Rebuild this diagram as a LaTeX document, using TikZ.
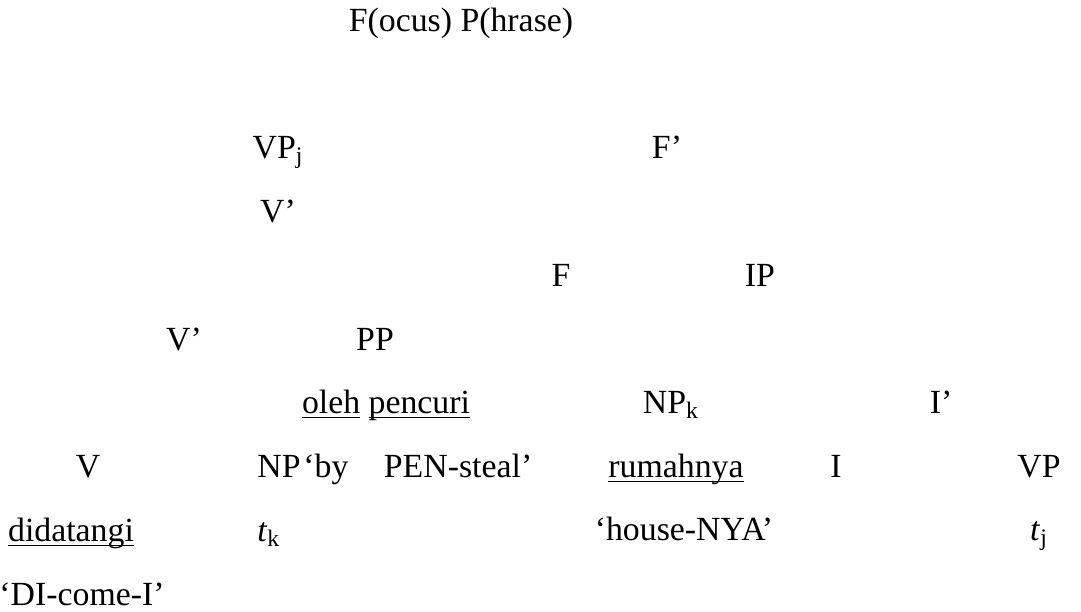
\documentclass[tikz,border=0pt]{standalone}
\usepackage{fontspec}
\setmainfont{Liberation Serif}
\usepackage{tikz}
\tikzstyle{cat}=[anchor=base, inner sep=0pt, font=\fontsize{16.9}{20}\selectfont]
% subrayado pegado a la línea base
\newcommand\subrayar[1]{\setbox0\hbox{#1}\rlap{\rule[-2.6pt]{\wd0}{0.8pt}}\box0\relax}

\begin{document}
\begin{tikzpicture}[x=0.5pt, y=-0.5pt]
        \useasboundingbox (0,0) rectangle (1081,611);

        % categorías
        \node[cat] (FP) at (461, 31) {F(ocus) P(hrase)};
        \node[cat] (VPj) at (278, 158) {VP\textsubscript{j}};
        \node[cat] (Fbar) at (667, 158) {F’};
        \node[cat] (Vbar) at (278, 222) {V’};
        \node[cat] (F) at (561, 286) {F};
        \node[cat] (IP) at (760, 286) {IP};
        \node[cat] (Vbar2) at (184, 350) {V’};
        \node[cat] (PP) at (375, 350) {PP};
        \node[cat] (NPk) at (671, 413) {NP\textsubscript{k}};
        \node[cat] (Ibar) at (941, 413) {I’};
        \node[cat] (V) at (88, 477) {V};
        \node[cat, anchor=base west] (NP) at (257, 477) {NP};
        \node[cat] (I) at (836, 477) {I};
        \node[cat] (VP) at (1039, 477) {VP};

        % palabras y glosas
        \node[cat] (oleh) at (386, 413) {\subrayar{oleh} \subrayar{pencuri}};
        \node[cat, anchor=base west] (glosaPP) at (303, 477) {‘by\hspace{1.05em}PEN-steal’};
        \node[cat] (rumahnya) at (676, 477) {\subrayar{rumahnya}};
        \node[cat] (didatangi) at (71, 541) {\subrayar{didatangi}};
        \node[cat, anchor=base west] (tk) at (257, 541) {\textit{t}\textsubscript{k}};
        \node[cat] (glosaNP) at (684, 540) {‘house-NYA’};
        \node[cat] (tj) at (1039, 540) {\textit{t}\textsubscript{j}};
        \node[cat] (glosaV) at (82, 605) {‘DI-come-I’};
    \end{tikzpicture}
\end{document}
